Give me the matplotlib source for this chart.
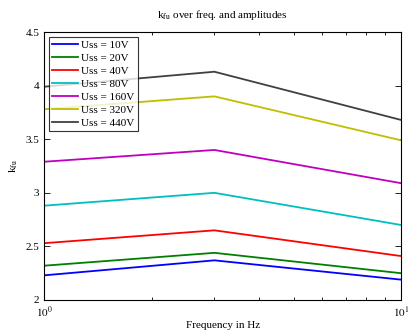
import numpy as np
import matplotlib
matplotlib.use('Agg')
import matplotlib.pyplot as plt
from matplotlib.ticker import FixedLocator, LogLocator, NullFormatter

plt.rcParams['font.family'] = ['Liberation Serif', 'DejaVu Serif']
plt.rcParams['mathtext.fontset'] = 'stix'

# frequencies in Hz
freq = [1, 3, 10]
labels = ['Uss = 10V', 'Uss = 20V', 'Uss = 40V', 'Uss = 80V',
          'Uss = 160V', 'Uss = 320V', 'Uss = 440V']
k10 = [2.23, 2.37, 2.19]
k20 = [2.32, 2.44, 2.25]
k40 = [2.53, 2.65, 2.41]
k80 = [2.88, 3.00, 2.70]
k160 = [3.29, 3.40, 3.09]
k320 = [3.78, 3.90, 3.49]
k440 = [3.99, 4.13, 3.68]
colors = ['#0000ff', '#008000', '#ff0000', '#00bfbf', '#bf00bf', '#bfbf00', '#404040']

fig = plt.figure(figsize=(4.08, 3.32), dpi=100)
ax = fig.add_axes([0.108, 0.0964, 0.875, 0.807])

for k, lab, c in zip([k10, k20, k40, k80, k160, k320, k440], labels, colors):
    ax.plot(freq, k, color=c, lw=1.3, label=lab)

ax.set_xscale('log')
ax.set_xlim(1, 10)
ax.set_ylim(2, 4.5)
ax.set_yticks([2, 2.5, 3, 3.5, 4, 4.5])
ax.set_yticklabels(['2', '2.5', '3', '3.5', '4', '4.5'])
ax.xaxis.set_major_locator(FixedLocator([1, 10]))
ax.set_xticklabels(['$10^0$', '$10^1$'])
ax.xaxis.set_minor_locator(LogLocator(base=10, subs=np.arange(2, 10)))
ax.xaxis.set_minor_formatter(NullFormatter())
ax.tick_params(which='both', direction='in', top=True, right=True, labelsize=8)
ax.tick_params(which='major', length=4, width=0.6)
ax.tick_params(which='minor', length=2, width=0.6)
for s in ax.spines.values():
    s.set_linewidth(0.8)

ax.set_title('k$_{\\mathrm{fu}}$ over freq. and amplitudes', fontsize=8, pad=10)
ax.set_xlabel('Frequency in Hz', fontsize=8, labelpad=1)
ax.set_ylabel('k$_{\\mathrm{fu}}$', fontsize=8)

leg = ax.legend(loc='upper left', fontsize=8, frameon=True, fancybox=False,
                edgecolor='black', handlelength=2.3, handletextpad=0.3,
                labelspacing=0.28, borderpad=0.3, borderaxespad=0.45)
leg.get_frame().set_linewidth(0.8)

fig.savefig('out.png', dpi=100)
